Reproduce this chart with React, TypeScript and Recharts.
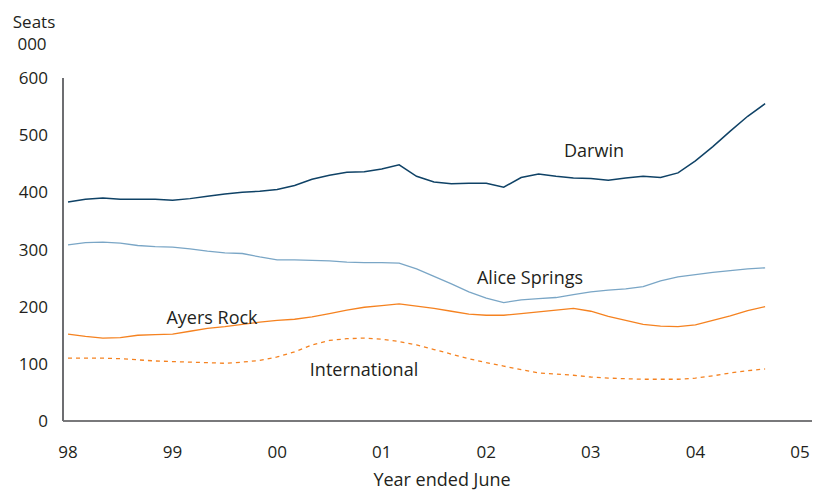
import React from 'react';
import { LineChart, Line, XAxis, YAxis } from 'recharts';

// bi-monthly observations, Jan 98 .. Sep 04 (decimal years)
const periods = Array.from({ length: 41 }, (_, i) => 1998 + i / 6);

const darwin = [
  383, 388, 390, 388, 388, 388, 386, 389, 393, 397, 400, 402, 405, 412, 423, 430, 435, 436, 441, 448,
  428, 418, 415, 416, 416, 409, 426, 432, 428, 425, 424, 421, 425, 428, 426, 434, 455, 480, 507, 533, 555,
];
const aliceSprings = [
  308, 312, 313, 311, 307, 305, 304, 301, 297, 294, 293, 287, 282, 282, 281, 280, 278, 277, 277, 276,
  266, 253, 240, 226, 215, 207, 212, 214, 216, 221, 226, 229, 231, 235, 245, 252, 256, 260, 263, 266, 268,
];
const ayersRock = [
  152, 148, 145, 146, 150, 151, 152, 157, 162, 165, 169, 173, 176, 178, 182, 188, 194, 199, 202, 205,
  201, 197, 192, 187, 185, 185, 188, 191, 194, 197, 192, 183, 176, 169, 166, 165, 168, 176, 184, 193, 200,
];
const international = [
  110, 110, 110, 109, 107, 105, 104, 103, 102, 101, 103, 106, 112, 121, 133, 141, 144, 145, 143, 139,
  133, 125, 117, 109, 102, 96, 90, 84, 82, 80, 77, 75, 74, 73, 73, 73, 75, 79, 84, 88, 91,
];

const yearTicks = [1998, 1999, 2000, 2001, 2002, 2003, 2004, 2005];
const yearLabels = ['98', '99', '00', '01', '02', '03', '04', '05'];
const seatTicks = [0, 100, 200, 300, 400, 500, 600];

const data = periods.map((t, i) => ({
  t,
  darwin: darwin[i],
  alice: aliceSprings[i],
  ayers: ayersRock[i],
  intl: international[i],
}));

const FONT = '"Open Sans", sans-serif';
const TEXT = '#231f20';

const Note: React.FC<{ x: number; y: number; size?: number; children: React.ReactNode }> = ({ x, y, size = 18, children }) => (
  <div
    style={{
      position: 'absolute',
      left: x,
      top: y,
      transform: 'translate(-50%, -50%)',
      fontSize: size,
      lineHeight: 1,
      whiteSpace: 'nowrap',
      color: TEXT,
    }}
  >
    {children}
  </div>
);

export default function App() {
  return (
    <div style={{ position: 'relative', width: 813, height: 491, fontFamily: FONT, overflow: 'hidden' }}>
      {/* drop the default body margin so the chart can use the whole window */}
      <style>{'html, body { margin: 0; padding: 0; }'}</style>
      <LineChart
        width={813}
        height={491}
        data={data}
        margin={{ top: 78, right: 1, bottom: 0, left: 0 }}
        style={{ fontFamily: FONT }}
      >
        <XAxis
          dataKey="t"
          type="number"
          domain={[1997.952, 2005.115]}
          ticks={yearTicks}
          interval={0}
          tickFormatter={(v) => yearLabels[yearTicks.indexOf(v)] ?? ''}
          height={70}
          tickLine={false}
          tickSize={0}
          tickMargin={25}
          axisLine={{ stroke: '#4d4d4f', strokeWidth: 1.5 }}
          tick={{ fontSize: 17, fill: TEXT }}
          allowDataOverflow
        />
        <YAxis
          domain={[0, 600]}
          ticks={seatTicks}
          width={63}
          tickLine={false}
          tickSize={0}
          tickMargin={15}
          axisLine={{ stroke: '#6d6e71', strokeWidth: 2 }}
          tick={{ fontSize: 17, fill: TEXT }}
        />
        <Line type="linear" dataKey="darwin" stroke="#0f4266" strokeWidth={1.5} dot={false} isAnimationActive={false} />
        <Line type="linear" dataKey="alice" stroke="#7aa6c6" strokeWidth={1.3} dot={false} isAnimationActive={false} />
        <Line type="linear" dataKey="ayers" stroke="#f58220" strokeWidth={1.3} dot={false} isAnimationActive={false} />
        <Line type="linear" dataKey="intl" stroke="#f58220" strokeWidth={1.3} strokeDasharray="4 4" dot={false} isAnimationActive={false} />
      </LineChart>

      <Note x={34} y={21} size={17}>Seats</Note>
      <Note x={32} y={43} size={17}>000</Note>
      <Note x={594} y={150}>Darwin</Note>
      <Note x={530} y={277}>Alice Springs</Note>
      <Note x={212} y={317}>Ayers Rock</Note>
      <Note x={364} y={369}>International</Note>
      <Note x={442} y={479}>Year ended June</Note>
    </div>
  );
}
